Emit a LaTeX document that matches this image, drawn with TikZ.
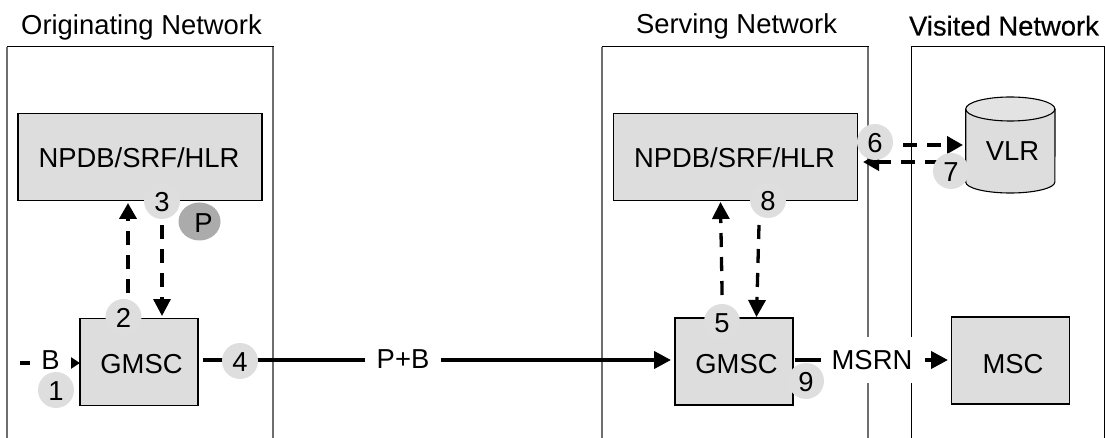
\documentclass[tikz,border=0pt]{standalone}
\usepackage{fontspec}
\setmainfont{Liberation Sans}
\newfontfamily\fakeb[FakeBold=0.4]{Liberation Sans}
\usetikzlibrary{arrows.meta,shapes.geometric}
\definecolor{boxfill}{HTML}{DDDDDD}
\definecolor{badgefill}{HTML}{DEDEDE}
\definecolor{pfill}{HTML}{ABABAB}
\definecolor{netline}{HTML}{6E6E6E}
\newcommand{\boxtxt}[1]{\hspace*{5pt}#1}
\tikzset{
  net/.style={draw=netline,line width=1.1pt,fill=none},
  nettop/.style={draw=black,line width=0.9pt},
  netb/.style={draw=black,line width=0.9pt},
  title/.style={font=\fontsize{27.4}{30}\selectfont,inner sep=0pt,anchor=center},
  lab/.style={font=\fontsize{27.4}{30}\selectfont,inner sep=0pt,anchor=center},
  wlab/.style={lab,fill=white,inner xsep=0pt,inner ysep=0pt},
  box/.style={draw=black,line width=1.1pt,fill=boxfill,inner sep=0pt,text depth=0pt,font=\fontsize{27.4}{30}\selectfont},
  badge/.style={circle,fill=badgefill,minimum size=36pt,inner sep=0pt,text height=21.5pt,text depth=0pt,font=\fontsize{27.4}{30}\selectfont},
  solidarrow/.style={line width=4pt,-{Triangle[length=17pt,width=17pt]}},
  dasharrow/.style={line width=3.8pt,dash pattern=on 14pt off 10pt,-{Triangle[length=16pt,width=17pt]}},
  thindash/.style={line width=3.3pt,dash pattern=on 14pt off 10pt,-{Triangle[length=17pt,width=17pt]}}
}
\begin{document}
\begin{tikzpicture}[x=1pt,y=-1pt]
\useasboundingbox (0,0) rectangle (1105,438);
% networks
\draw[net] (7,438) -- (7,46.7);
\draw[net] (273,46.7) -- (273,438);
\draw[nettop] (6.5,46.7) -- (273.5,46.7);
\draw[net] (602,438) -- (602,46.7);
\draw[net] (868,46.7) -- (868,438);
\draw[nettop] (601.5,46.7) -- (868.5,46.7);
\draw[netb] (911,438) -- (911,46.7) -- (1104,46.7) -- (1104,438);
\node[title] (tO) at (141.5,27) {Originating Network};
\node[title] (tS) at (736.5,26.5) {Serving Network};
\node[title] (tV) at (1004,25.7) {\fakeb Visited Network};
% boxes
\node[box,text height=21.4pt,minimum width=244pt,minimum height=87pt] (hlrL) at (140,157) {\hspace*{-2pt}NPDB/SRF/HLR};
\node[box,text height=21.4pt,minimum width=244pt,minimum height=87pt] (hlrR) at (735.5,157) {\hspace*{-2pt}NPDB/SRF/HLR};
\node[box,text height=22pt,minimum width=118pt,minimum height=87pt] (gmscL) at (139,362) {\boxtxt{GMSC}};
\node[box,text height=23pt,minimum width=118pt,minimum height=87pt] (gmscR) at (734,361.5) {\boxtxt{GMSC}};
\node[box,text height=25pt,minimum width=118pt,minimum height=87pt] (msc) at (1010.5,360.5) {\boxtxt{MSC}};
% VLR cylinder
\fill[boxfill] (965.7,109) -- (965.7,182) arc[start angle=180,end angle=360,x radius=44.6pt,y radius=11pt] -- (1055,109) -- cycle;
\draw[line width=1.1pt,fill=badgefill!85!white] (1010.3,109) ellipse[x radius=44.6pt,y radius=12pt];
\draw[line width=1.1pt] (965.7,109) -- (965.7,182) arc[start angle=180,end angle=360,x radius=44.6pt,y radius=11pt] -- (1055,109);
\node[lab] (vlr) at (1012.5,151) {VLR};
% connector ends
\coordinate (b0) at (20,363);
\coordinate (b1) at (80,363);
\coordinate (s0) at (203,360);
\coordinate (s1) at (671,360);
\coordinate (m0) at (795,360);
\coordinate (m1) at (948,360);
\coordinate (u0) at (128,317);
\coordinate (u1) at (128,203);
\coordinate (d0) at (162,225);
\coordinate (d1) at (162,316);
\coordinate (u2) at (722.5,319);
\coordinate (u3) at (720.5,202);
\coordinate (d2) at (759,225);
\coordinate (d3) at (756.5,317);
\coordinate (r0) at (903,145);
\coordinate (r1) at (963,145);
\coordinate (l0) at (939,162);
\coordinate (l1) at (863,162);
% connectors
\draw[line width=3.8pt,-{Triangle[length=9pt,width=11pt]}] (b0) -- (b1);
\draw[solidarrow] (s0) -- (s1);
\draw[solidarrow] (m0) -- (m1);
\draw[dasharrow] (u0) -- (u1);
\draw[thindash] (d0) -- (d1);
\draw[thindash] (u2) -- (u3);
\draw[thindash] (d2) -- (d3);
\draw[dasharrow] (r0) -- (r1);
\draw[dasharrow] (l0) -- (l1);
% connector labels
\node[wlab,minimum width=41pt,minimum height=34pt] (lB) at (50.5,360) {B};
\node[wlab,minimum width=76pt,minimum height=36pt] (lPB) at (403,359.5) {P+B};
\node[wlab,minimum width=104pt,minimum height=46pt] (lM) at (873,360) {\hspace*{-2pt}MSRN};
% badges
\node[badge] (n1) at (56,390) {1};
\node[badge] (n2) at (123.5,317) {2};
\node[badge] (n3) at (162,201) {3};
\node[ellipse,fill=pfill,minimum width=42pt,minimum height=38pt,inner sep=0pt,text height=23pt,text depth=0pt,font=\fontsize{27.4}{30}\selectfont] (nP) at (199.5,221.5) {\hspace*{8pt}P};
\node[badge] (n4) at (240,361) {4};
\node[badge] (n5) at (722,322) {5};
\node[badge] (n6) at (875,142) {6};
\node[badge] (n7) at (951,171) {7};
\node[badge] (n8) at (768,200) {8};
\node[badge] (n9) at (806,381) {9};
\end{tikzpicture}
\end{document}
